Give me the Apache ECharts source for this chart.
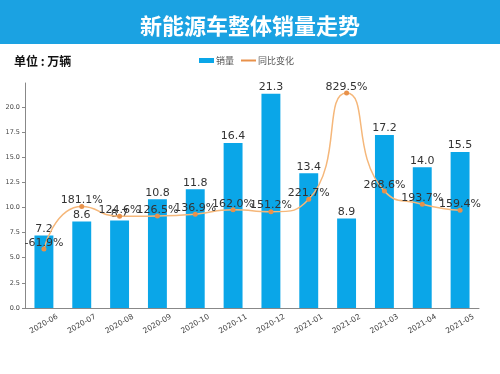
<!DOCTYPE html>
<html>
<head>
<meta charset="utf-8">
<script src="https://cdn.jsdelivr.net/npm/echarts@6/dist/echarts.min.js"></script>
<style>
html,body{margin:0;padding:0;background:#fff;}
#c{width:500px;height:374px;}
</style>
</head>
<body>
<div id="c"></div>
<script>
const months = ['2020-06','2020-07','2020-08','2020-09','2020-10','2020-11','2020-12','2021-01','2021-02','2021-03','2021-04','2021-05'];
const sales = [7.2, 8.6, 8.7, 10.8, 11.8, 16.4, 21.3, 13.4, 8.9, 17.2, 14.0, 15.5];
const yoy = [-61.9, 181.1, 124.6, 126.5, 136.9, 162.0, 151.2, 221.7, 829.5, 268.6, 193.7, 159.4];
const yTicks = [0, 2.5, 5, 7.5, 10, 12.5, 15, 17.5, 20];

const FONT = 'DejaVu Sans';
const chart = echarts.init(document.getElementById('c'), null, {renderer: 'canvas'});
chart.setOption({
  animation: false,
  backgroundColor: '#fff',
  graphic: [
    {type: 'rect', left: 0, top: 0, shape: {width: 500, height: 44}, style: {fill: '#1ba2e2'}, z: -1}
  ],
  title: [
    {text: '新能源车整体销量走势', left: 'center', top: 10,
     textStyle: {color: '#fff', fontSize: 22, fontWeight: 'bold', fontFamily: 'Noto Sans CJK SC'}},
    {text: '单位 : 万辆', left: 9, top: 50,
     textStyle: {color: '#111', fontSize: 12, fontWeight: 'bold', fontFamily: 'Noto Sans CJK SC'}}
  ],
  legend: [
    {data: ['销量'], left: 194, top: 51, icon: 'rect', itemWidth: 15, itemHeight: 5, itemGap: 4,
     textStyle: {fontSize: 9, color: '#555', fontFamily: 'Noto Sans CJK SC', padding: [0,0,0,-3]}},
    {data: ['同比变化'], left: 236, top: 51, icon: 'rect', itemWidth: 15, itemHeight: 2,
     textStyle: {fontSize: 9, color: '#555', fontFamily: 'Noto Sans CJK SC', padding: [0,0,0,-3]}}
  ],
  grid: {left: 25, right: 21, top: 83, bottom: 66, containLabel: false},
  xAxis: {
    type: 'category', data: months, boundaryGap: true,
    axisLine: {lineStyle: {color: '#888', width: 1}},
    axisTick: {alignWithLabel: true, length: 3, lineStyle: {color: '#888'}},
    axisLabel: {rotate: 30, fontSize: 7.5, color: '#444', fontFamily: FONT, margin: 16,
                align: 'center', verticalAlign: 'middle'}
  },
  yAxis: [
    {type: 'value', min: 0, max: 22.37,
     axisLine: {show: true, lineStyle: {color: '#888'}},
     axisTick: {show: true, length: 3, lineStyle: {color: '#888'}, customValues: yTicks},
     axisLabel: {fontSize: 6.5, color: '#444', fontFamily: FONT, margin: 5, customValues: yTicks,
                 formatter: v => v.toFixed(1)},
     splitLine: {show: false}},
    {type: 'value', min: -400, max: 887, show: false, splitLine: {show: false}}
  ],
  series: [
    {name: '销量', type: 'bar', data: sales, barWidth: '50%', yAxisIndex: 0,
     itemStyle: {color: '#0aa6e8'},
     label: {show: true, position: 'top', distance: 1, fontSize: 11, color: '#333', fontFamily: FONT,
             formatter: p => p.value.toFixed(1)}},
    {name: '同比变化', type: 'line', data: yoy, yAxisIndex: 1, smooth: 0.6,
     symbol: 'circle', symbolSize: 5,
     lineStyle: {color: '#f5b77a', width: 1.5},
     itemStyle: {color: '#e8914a'},
     label: {show: true, position: 'top', distance: -2, fontSize: 11, color: '#333', fontFamily: FONT,
             formatter: p => p.value.toFixed(1) + '%'},
     z: 3}
  ]
});
</script>
</body>
</html>
